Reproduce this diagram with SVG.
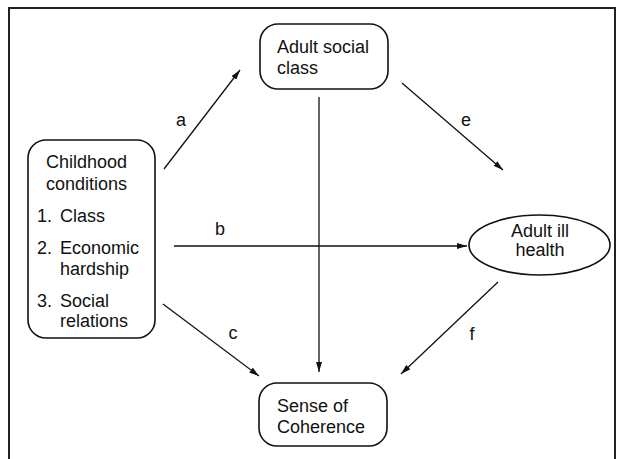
<svg xmlns="http://www.w3.org/2000/svg" width="619" height="459" viewBox="0 0 619 459">
<style>
.bg{fill:#fff}
.frame{fill:none;stroke:#222;stroke-width:2}
.node{fill:#fff;stroke:#111;stroke-width:1.6}
.edge{fill:none;stroke:#111;stroke-width:1.3}
text{font-family:"Liberation Sans",Arial,sans-serif;font-size:18px;fill:#111}
.lbl{font-size:18px}
</style>
<defs>
<marker id="arr" viewBox="0 0 10 6" refX="10" refY="3" markerWidth="10" markerHeight="6" markerUnits="userSpaceOnUse" orient="auto">
<path d="M0,0 L10,3 L0,6 Z" fill="#111"/>
</marker>
</defs>
<rect class="bg" x="0" y="0" width="619" height="459"/>
<path class="frame" d="M9,459 L9,8 L615,8 L615,459"/>
<g id="connectors">
<line class="edge" x1="164" y1="169" x2="240" y2="70" marker-end="url(#arr)"/>
<line class="edge" x1="174" y1="246" x2="467" y2="246" marker-end="url(#arr)"/>
<line class="edge" x1="163" y1="304" x2="259" y2="376" marker-end="url(#arr)"/>
<line class="edge" x1="319" y1="97" x2="319" y2="372" marker-end="url(#arr)"/>
<line class="edge" x1="402" y1="83" x2="503" y2="170" marker-end="url(#arr)"/>
<line class="edge" x1="498" y1="282" x2="401" y2="374" marker-end="url(#arr)"/>
<text class="lbl" x="181" y="126" text-anchor="middle">a</text>
<text class="lbl" x="220" y="235" text-anchor="middle">b</text>
<text class="lbl" x="233" y="339" text-anchor="middle">c</text>
<text class="lbl" x="466" y="126" text-anchor="middle">e</text>
<text class="lbl" x="472" y="340" text-anchor="middle">f</text>
</g>
<g id="childhood">
<rect class="node" x="28" y="140" width="127" height="198" rx="18" ry="18"/>
<text x="46" y="168">Childhood</text>
<text x="46" y="190">conditions</text>
<text x="37" y="222">1.</text><text x="60" y="222">Class</text>
<text x="37" y="254">2.</text><text x="60" y="254">Economic</text>
<text x="60" y="275">hardship</text>
<text x="37" y="307">3.</text><text x="60" y="307">Social</text>
<text x="60" y="327">relations</text>
</g>
<g id="adult-social-class">
<rect class="node" x="260" y="24" width="128" height="65" rx="18" ry="18"/>
<text x="277" y="53">Adult social</text>
<text x="277" y="74">class</text>
</g>
<g id="adult-ill-health">
<ellipse class="node" cx="539.5" cy="245" rx="70.5" ry="30"/>
<text x="540" y="237" text-anchor="middle">Adult ill</text>
<text x="540" y="256" text-anchor="middle">health</text>
</g>
<g id="sense-of-coherence">
<rect class="node" x="259" y="383" width="128" height="63" rx="18" ry="18"/>
<text x="277" y="412">Sense of</text>
<text x="277" y="433">Coherence</text>
</g>
</svg>
